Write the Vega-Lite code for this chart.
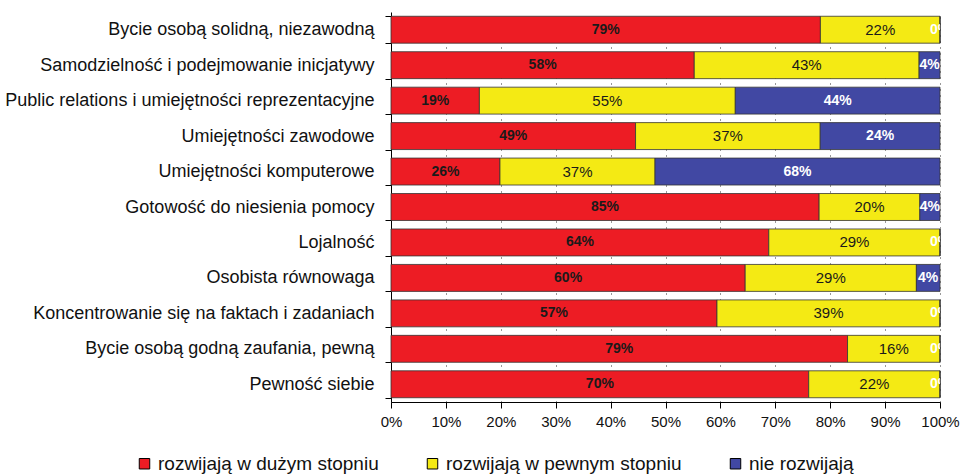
{
  "$schema": "https://vega.github.io/schema/vega-lite/v6.json",
  "width": 549,
  "height": 390,
  "autosize": "none",
  "padding": {"left": 391, "top": 12, "right": 20, "bottom": 72},
  "background": "white",
  "config": {
    "font": "Liberation Sans",
    "view": {"stroke": null}
  },
  "data": {
    "values": [
      {"cecha": "Bycie osobą solidną, niezawodną", "seria": "rozwijają w dużym stopniu", "n": 1, "v": 0.79},
      {"cecha": "Bycie osobą solidną, niezawodną", "seria": "rozwijają w pewnym stopniu", "n": 2, "v": 0.22},
      {"cecha": "Bycie osobą solidną, niezawodną", "seria": "nie rozwijają", "n": 3, "v": 0},
      {"cecha": "Samodzielność i podejmowanie inicjatywy", "seria": "rozwijają w dużym stopniu", "n": 1, "v": 0.58},
      {"cecha": "Samodzielność i podejmowanie inicjatywy", "seria": "rozwijają w pewnym stopniu", "n": 2, "v": 0.43},
      {"cecha": "Samodzielność i podejmowanie inicjatywy", "seria": "nie rozwijają", "n": 3, "v": 0.04},
      {"cecha": "Public relations i umiejętności reprezentacyjne", "seria": "rozwijają w dużym stopniu", "n": 1, "v": 0.19},
      {"cecha": "Public relations i umiejętności reprezentacyjne", "seria": "rozwijają w pewnym stopniu", "n": 2, "v": 0.55},
      {"cecha": "Public relations i umiejętności reprezentacyjne", "seria": "nie rozwijają", "n": 3, "v": 0.44},
      {"cecha": "Umiejętności zawodowe", "seria": "rozwijają w dużym stopniu", "n": 1, "v": 0.49},
      {"cecha": "Umiejętności zawodowe", "seria": "rozwijają w pewnym stopniu", "n": 2, "v": 0.37},
      {"cecha": "Umiejętności zawodowe", "seria": "nie rozwijają", "n": 3, "v": 0.24},
      {"cecha": "Umiejętności komputerowe", "seria": "rozwijają w dużym stopniu", "n": 1, "v": 0.26},
      {"cecha": "Umiejętności komputerowe", "seria": "rozwijają w pewnym stopniu", "n": 2, "v": 0.37},
      {"cecha": "Umiejętności komputerowe", "seria": "nie rozwijają", "n": 3, "v": 0.68},
      {"cecha": "Gotowość do niesienia pomocy", "seria": "rozwijają w dużym stopniu", "n": 1, "v": 0.85},
      {"cecha": "Gotowość do niesienia pomocy", "seria": "rozwijają w pewnym stopniu", "n": 2, "v": 0.20},
      {"cecha": "Gotowość do niesienia pomocy", "seria": "nie rozwijają", "n": 3, "v": 0.04},
      {"cecha": "Lojalność", "seria": "rozwijają w dużym stopniu", "n": 1, "v": 0.64},
      {"cecha": "Lojalność", "seria": "rozwijają w pewnym stopniu", "n": 2, "v": 0.29},
      {"cecha": "Lojalność", "seria": "nie rozwijają", "n": 3, "v": 0},
      {"cecha": "Osobista równowaga", "seria": "rozwijają w dużym stopniu", "n": 1, "v": 0.60},
      {"cecha": "Osobista równowaga", "seria": "rozwijają w pewnym stopniu", "n": 2, "v": 0.29},
      {"cecha": "Osobista równowaga", "seria": "nie rozwijają", "n": 3, "v": 0.04},
      {"cecha": "Koncentrowanie się na faktach i zadaniach", "seria": "rozwijają w dużym stopniu", "n": 1, "v": 0.57},
      {"cecha": "Koncentrowanie się na faktach i zadaniach", "seria": "rozwijają w pewnym stopniu", "n": 2, "v": 0.39},
      {"cecha": "Koncentrowanie się na faktach i zadaniach", "seria": "nie rozwijają", "n": 3, "v": 0},
      {"cecha": "Bycie osobą godną zaufania, pewną", "seria": "rozwijają w dużym stopniu", "n": 1, "v": 0.79},
      {"cecha": "Bycie osobą godną zaufania, pewną", "seria": "rozwijają w pewnym stopniu", "n": 2, "v": 0.16},
      {"cecha": "Bycie osobą godną zaufania, pewną", "seria": "nie rozwijają", "n": 3, "v": 0},
      {"cecha": "Pewność siebie", "seria": "rozwijają w dużym stopniu", "n": 1, "v": 0.70},
      {"cecha": "Pewność siebie", "seria": "rozwijają w pewnym stopniu", "n": 2, "v": 0.22},
      {"cecha": "Pewność siebie", "seria": "nie rozwijają", "n": 3, "v": 0}
    ]
  },
  "encoding": {
    "y": {
      "field": "cecha",
      "type": "nominal",
      "sort": null,
      "scale": {"paddingInner": 0.24, "paddingOuter": 0.12},
      "axis": {
        "title": null,
        "domainColor": "#000",
        "domainWidth": 1,
        "tickColor": "#000",
        "tickSize": 6,
        "tickBand": "extent",
        "labelFontSize": 18,
        "labelColor": "#111",
        "labelPadding": 11,
        "labelLimit": 420,
        "grid": false
      }
    },
    "x": {
      "field": "v",
      "type": "quantitative",
      "stack": "normalize",
      "scale": {"domain": [0, 1], "nice": false},
      "axis": {
        "title": null,
        "values": [0, 0.1, 0.2, 0.3, 0.4, 0.5, 0.6, 0.7, 0.8, 0.9, 1],
        "format": ".0%",
        "domainColor": "#000",
        "tickColor": "#000",
        "tickSize": 6,
        "labelFontSize": 15,
        "labelColor": "#111",
        "labelPadding": 6,
        "labelFlush": false,
        "grid": true,
        "gridColor": "#333",
        "gridDash": [1, 5],
        "gridWidth": 1
      }
    },
    "order": {"field": "n", "type": "quantitative"}
  },
  "layer": [
    {
      "mark": {"type": "bar", "stroke": "#333", "strokeWidth": 0.8},
      "encoding": {
        "color": {
          "field": "seria",
          "type": "nominal",
          "scale": {
            "domain": ["rozwijają w dużym stopniu", "rozwijają w pewnym stopniu", "nie rozwijają"],
            "range": ["#ED1C24", "#F4EA14", "#4148A3"]
          },
          "legend": {
            "title": null,
            "orient": "none",
            "legendX": -256,
            "legendY": 442,
            "direction": "horizontal",
            "columns": 3,
            "columnPadding": 44,
            "symbolType": "square",
            "symbolSize": 110,
            "symbolStrokeColor": "#000",
            "symbolStrokeWidth": 1,
            "labelFontSize": 19,
            "labelColor": "#111",
            "labelLimit": 400,
            "labelOffset": 4,
            "padding": 0
          }
        }
      }
    },
    {
      "mark": {"type": "text", "fontSize": 14, "fontWeight": "bold", "clip": true, "baseline": "middle", "align": "center"},
      "encoding": {
        "x": {"field": "v", "type": "quantitative", "stack": "normalize", "bandPosition": 0.5},
        "text": {"condition": {"test": "datum.n == 2", "value": ""}, "field": "v", "type": "quantitative", "format": ".0%"},
        "color": {
          "condition": {"test": "datum.n == 3", "value": "#ffffff"},
          "value": "#1a1a1a"
        }
      }
    },
    {
      "mark": {"type": "text", "fontSize": 15, "fontWeight": "normal", "clip": true, "baseline": "middle", "align": "center", "color": "#1a1a1a"},
      "encoding": {
        "x": {"field": "v", "type": "quantitative", "stack": "normalize", "bandPosition": 0.5},
        "text": {"condition": {"test": "datum.n != 2", "value": ""}, "field": "v", "type": "quantitative", "format": ".0%"}
      }
    }
  ]
}
